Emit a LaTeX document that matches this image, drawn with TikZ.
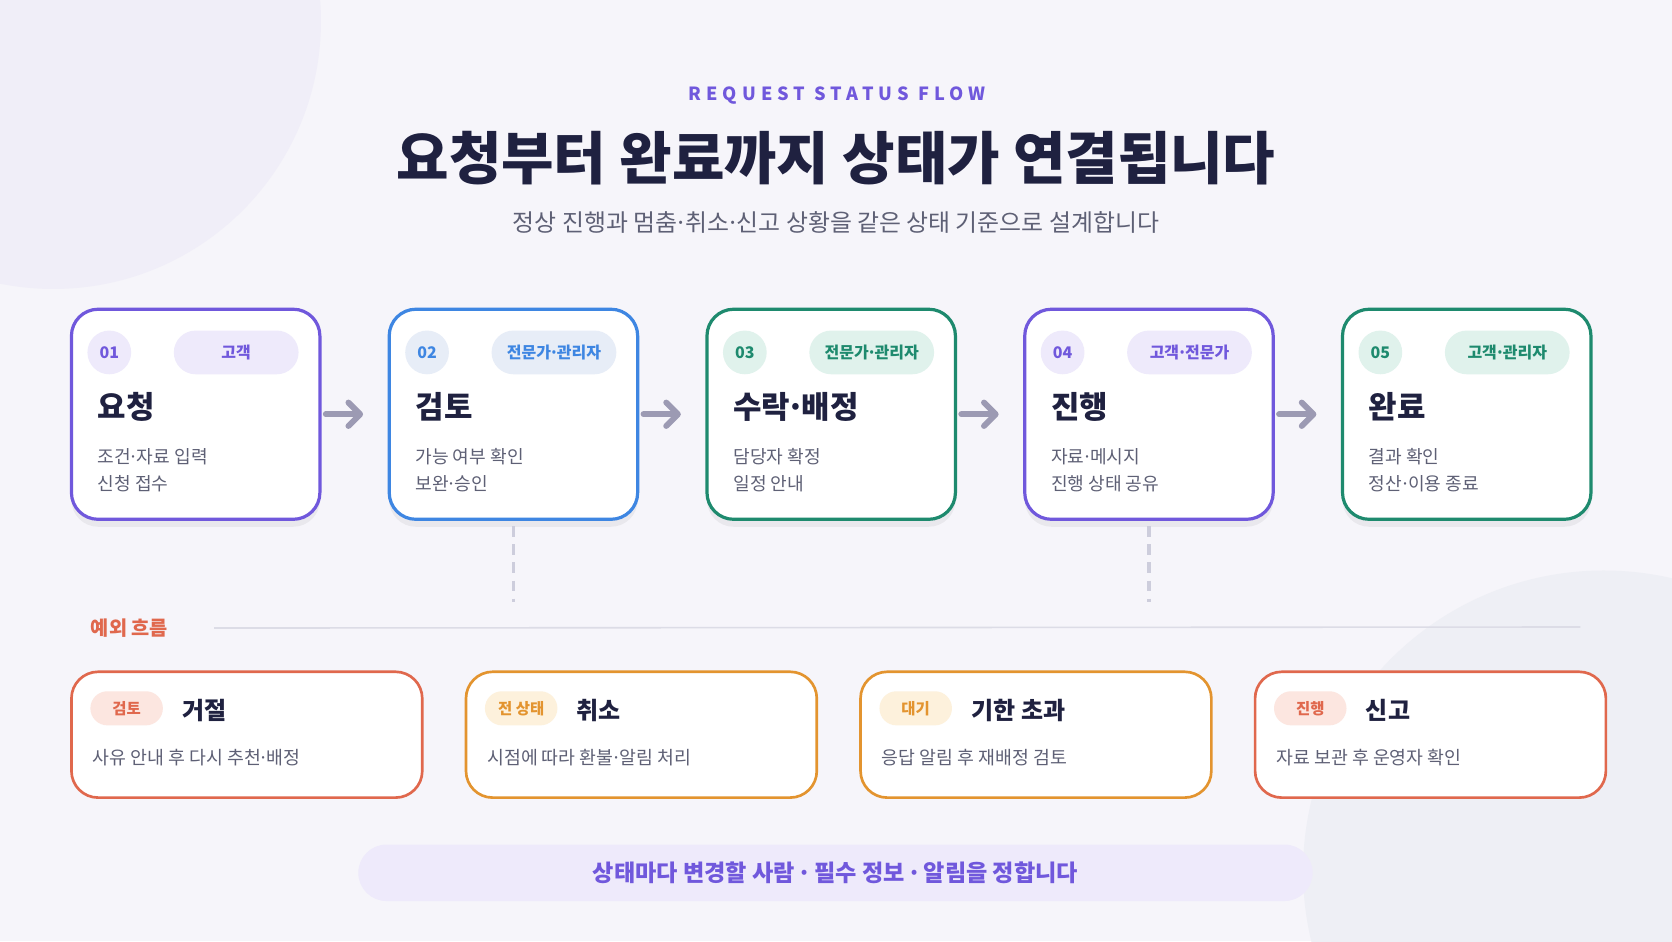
\documentclass[tikz,border=0pt]{standalone}
\usepackage{fontspec}
\setmainfont{Noto Sans CJK KR}
\newfontfamily\spacedfont{Noto Sans CJK KR}[LetterSpace=28]
\usetikzlibrary{positioning, arrows.meta, calc, shadows}

% narrow middle dot
\newcommand{\kdot}{\kern-.12em·\kern-.12em}

\definecolor{bgcol}{HTML}{F6F5FA}
\definecolor{blobA}{HTML}{F0EEF8}
\definecolor{blobB}{HTML}{EEEFF5}
\definecolor{ink}{HTML}{1F2140}
\definecolor{greytext}{HTML}{5E6075}
\definecolor{purp}{HTML}{7058DC}
\definecolor{purpL}{HTML}{EEEAFB}
\definecolor{blu}{HTML}{3E86E2}
\definecolor{bluL}{HTML}{E7EDF7}
\definecolor{teal}{HTML}{1E8A6E}
\definecolor{tealL}{HTML}{E0F2EC}
\definecolor{redo}{HTML}{E0684D}
\definecolor{redoL}{HTML}{FCE6E0}
\definecolor{orng}{HTML}{E3942F}
\definecolor{orngL}{HTML}{FDF1DC}
\definecolor{arrowgrey}{HTML}{9C9AB3}
\definecolor{dashgrey}{HTML}{CDCDDC}
\definecolor{rulegrey}{HTML}{DCDCE6}

\begin{document}
\begin{tikzpicture}[x=1pt, y=1pt,
    stepcard/.style={draw=#1, line width=3pt, fill=white, rounded corners=25pt, minimum width=233pt, minimum height=197pt, inner sep=0pt,
        drop shadow={shadow xshift=0pt, shadow yshift=-7pt, opacity=.05, fill=black}},
    exccard/.style={draw=#1, line width=2.5pt, fill=white, rounded corners=25pt, minimum width=329pt, minimum height=118pt, inner sep=0pt},
    numdot/.style={circle, fill=#1L, text=#1, minimum size=41pt, inner sep=0pt, font=\bfseries\fontsize{15}{18}\selectfont},
    rolepill/.style={fill=#1L, text=#1, rounded corners=20.5pt, minimum width=117pt, minimum height=41pt, inner sep=0pt, font=\bfseries\fontsize{15}{18}\selectfont},
    tagpill/.style={fill=#1L, text=#1, rounded corners=16pt, minimum width=68pt, minimum height=32pt, inner sep=0pt, font=\bfseries\fontsize{14.5}{17}\selectfont},
    steptitle/.style={anchor=west, inner sep=0pt, text=ink, font=\bfseries\fontsize{29}{33}\selectfont},
    stepdesc/.style={anchor=west, inner sep=0pt, align=left, text=greytext, font=\fontsize{17}{25}\selectfont},
    exctitle/.style={anchor=west, inner sep=0pt, text=ink, font=\bfseries\fontsize{22.5}{26}\selectfont},
    excdesc/.style={anchor=west, inner sep=0pt, text=greytext, font=\fontsize{17.2}{20}\selectfont},
    flow/.style={draw=arrowgrey, line width=5.5pt, line cap=round, shorten <=4pt, shorten >=23pt, -{Straight Barb[length=11pt, width=22pt, round]}},
    drop/.style={draw=dashgrey, line width=3pt, dash pattern=on 10pt off 7pt, shorten <=5pt}
]
% background
\path[use as bounding box] (0,0) rectangle (1568,-882.5);
\begin{scope}
\clip (0,0) rectangle (1568,-882.5);
\fill[bgcol] (0,0) rectangle (1568,-882.5);
\fill[blobA] (50,-20) circle (251);
\fill[blobB] (1504,-817) circle (282);
\end{scope}

% header
\node (Kicker) at (785,-90) {\spacedfont\bfseries\fontsize{17}{20}\selectfont\color{purp}REQUEST STATUS FLOW};
\node (Head) at (784,-148) [text=ink, font=\bfseries\fontsize{53.5}{58}\selectfont] {요청부터 완료까지 상태가 연결됩니다};
\node (Sub) at (784,-209) [text=greytext, font=\fontsize{22.4}{26}\selectfont] {정상 진행과 멈춤\kdot 취소\kdot 신고 상황을 같은 상태 기준으로 설계합니다};

% main steps
\node (Step1) at (183.5,-388.5) [stepcard=purp] {};
\node (Step2) [stepcard=blu, right=62pt of Step1] {};
\node (Step3) [stepcard=teal, right=62pt of Step2] {};
\node (Step4) [stepcard=purp, right=62pt of Step3] {};
\node (Step5) [stepcard=teal, right=62pt of Step4] {};

\node (Num1) at ($(Step1.north west)+(37,-42)$) [numdot=purp] {01};
\node (Role1) at ($(Step1.north east)+(-80,-42)$) [rolepill=purp] {고객};
\node (Title1) at ($(Step1.north west)+(26,-93)$) [steptitle] {요청};
\node (Desc1) at ($(Step1.north west)+(26,-152.5)$) [stepdesc] {조건\kdot 자료 입력\\신청 접수};

\node (Num2) at ($(Step2.north west)+(37,-42)$) [numdot=blu] {02};
\node (Role2) at ($(Step2.north east)+(-80,-42)$) [rolepill=blu] {전문가\kdot 관리자};
\node (Title2) at ($(Step2.north west)+(26,-93)$) [steptitle] {검토};
\node (Desc2) at ($(Step2.north west)+(26,-152.5)$) [stepdesc] {가능 여부 확인\\보완\kdot 승인};

\node (Num3) at ($(Step3.north west)+(37,-42)$) [numdot=teal] {03};
\node (Role3) at ($(Step3.north east)+(-80,-42)$) [rolepill=teal] {전문가\kdot 관리자};
\node (Title3) at ($(Step3.north west)+(26,-93)$) [steptitle] {수락\kdot 배정};
\node (Desc3) at ($(Step3.north west)+(26,-152.5)$) [stepdesc] {담당자 확정\\일정 안내};

\node (Num4) at ($(Step4.north west)+(37,-42)$) [numdot=purp] {04};
\node (Role4) at ($(Step4.north east)+(-80,-42)$) [rolepill=purp] {고객\kdot 전문가};
\node (Title4) at ($(Step4.north west)+(26,-93)$) [steptitle] {진행};
\node (Desc4) at ($(Step4.north west)+(26,-152.5)$) [stepdesc] {자료\kdot 메시지\\진행 상태 공유};

\node (Num5) at ($(Step5.north west)+(37,-42)$) [numdot=teal] {05};
\node (Role5) at ($(Step5.north east)+(-80,-42)$) [rolepill=teal] {고객\kdot 관리자};
\node (Title5) at ($(Step5.north west)+(26,-93)$) [steptitle] {완료};
\node (Desc5) at ($(Step5.north west)+(26,-152.5)$) [stepdesc] {결과 확인\\정산\kdot 이용 종료};

\draw [flow] (Step1.east) -- (Step2.west);
\draw [flow] (Step2.east) -- (Step3.west);
\draw [flow] (Step3.east) -- (Step4.west);
\draw [flow] (Step4.east) -- (Step5.west);

% exception flow
\coordinate (Drop2) at ($(Step2.south)+(0,-76)$);
\coordinate (Drop4) at ($(Step4.south)+(0,-76)$);
\draw [drop] (Step2.south) -- (Drop2);
\draw [drop] (Step4.south) -- (Drop4);

\node (ExcLabel) at (85,-589) [anchor=west, inner sep=0pt, text=redo, font=\bfseries\fontsize{18.5}{22}\selectfont] {예외 흐름};
\coordinate (RuleEnd) at (1482,-588);
\draw [rulegrey, line width=1.5pt, shorten <=43pt] (ExcLabel.east) -- (RuleEnd);

\node (Exc1) at (231.5,-689) [exccard=redo] {};
\node (Exc2) [exccard=orng, right=38.5pt of Exc1] {};
\node (Exc3) [exccard=orng, right=38.5pt of Exc2] {};
\node (Exc4) [exccard=redo, right=38.5pt of Exc3] {};

\node (Tag1) at ($(Exc1.north west)+(53,-35.5)$) [tagpill=redo] {검토};
\node (ExcTitle1) at ($(Exc1.north west)+(105,-37.5)$) [exctitle] {거절};
\node (ExcDesc1) at ($(Exc1.north west)+(21,-81.5)$) [excdesc] {사유 안내 후 다시 추천\kdot 배정};

\node (Tag2) at ($(Exc2.north west)+(53,-35.5)$) [tagpill=orng] {전 상태};
\node (ExcTitle2) at ($(Exc2.north west)+(105,-37.5)$) [exctitle] {취소};
\node (ExcDesc2) at ($(Exc2.north west)+(21,-81.5)$) [excdesc] {시점에 따라 환불\kdot 알림 처리};

\node (Tag3) at ($(Exc3.north west)+(53,-35.5)$) [tagpill=orng] {대기};
\node (ExcTitle3) at ($(Exc3.north west)+(105,-37.5)$) [exctitle] {기한 초과};
\node (ExcDesc3) at ($(Exc3.north west)+(21,-81.5)$) [excdesc] {응답 알림 후 재배정 검토};

\node (Tag4) at ($(Exc4.north west)+(53,-35.5)$) [tagpill=redo] {진행};
\node (ExcTitle4) at ($(Exc4.north west)+(105,-37.5)$) [exctitle] {신고};
\node (ExcDesc4) at ($(Exc4.north west)+(21,-81.5)$) [excdesc] {자료 보관 후 운영자 확인};

% footer note
\node (Note) at (783.5,-818.5) [fill=purpL, rounded corners=26.5pt, minimum width=895pt, minimum height=53pt, inner sep=0pt, text=purp, font=\bfseries\fontsize{21.7}{26}\selectfont] {상태마다 변경할 사람 \kdot{} 필수 정보 \kdot{} 알림을 정합니다};
\end{tikzpicture}
\end{document}
